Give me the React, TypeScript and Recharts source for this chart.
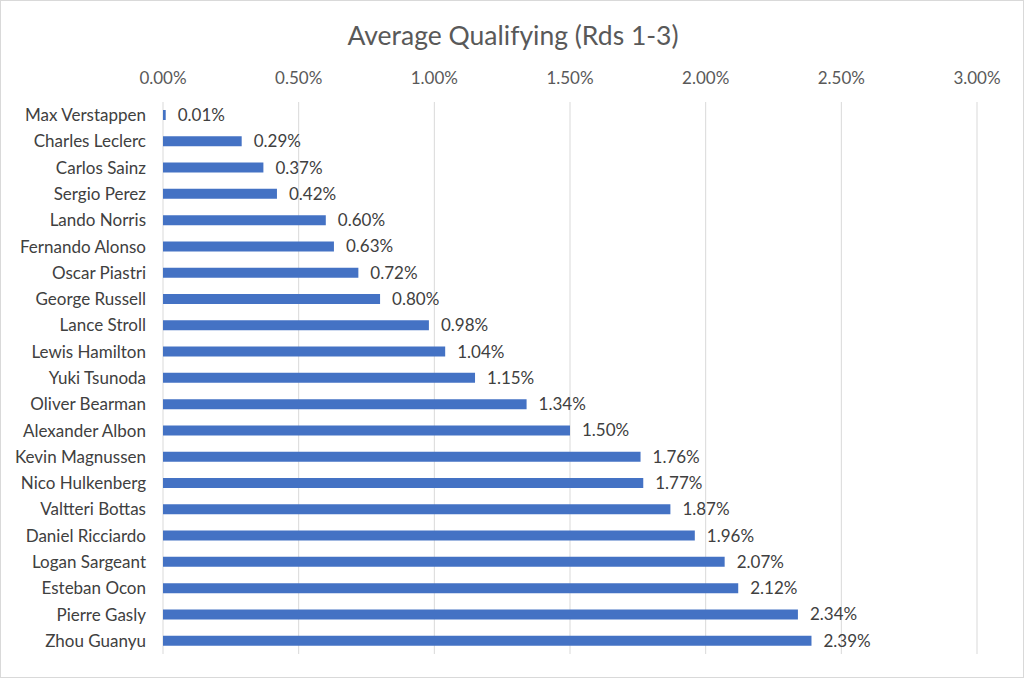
import React from 'react';
import { BarChart, Bar, XAxis, YAxis, CartesianGrid, LabelList } from 'recharts';

const drivers = [
  'Max Verstappen', 'Charles Leclerc', 'Carlos Sainz', 'Sergio Perez', 'Lando Norris',
  'Fernando Alonso', 'Oscar Piastri', 'George Russell', 'Lance Stroll', 'Lewis Hamilton',
  'Yuki Tsunoda', 'Oliver Bearman', 'Alexander Albon', 'Kevin Magnussen', 'Nico Hulkenberg',
  'Valtteri Bottas', 'Daniel Ricciardo', 'Logan Sargeant', 'Esteban Ocon', 'Pierre Gasly',
  'Zhou Guanyu',
];
const gaps = [
  0.01, 0.29, 0.37, 0.42, 0.60, 0.63, 0.72, 0.80, 0.98, 1.04, 1.15, 1.34, 1.50, 1.76, 1.77,
  1.87, 1.96, 2.07, 2.12, 2.34, 2.39,
];
const xTicks = [0, 0.5, 1, 1.5, 2, 2.5, 3];
const title = 'Average Qualifying (Rds 1-3)';

const data = drivers.map((name, i) => ({ name, value: gaps[i] }));
const FONT = 'Lato, "Open Sans", sans-serif';
const fmt = (v: number) => `${v.toFixed(2)}%`;

export default function App() {
  return (
    <div
      style={{
        position: 'absolute',
        left: 0,
        top: 0,
        width: 1022,
        height: 676,
        border: '1px solid #d9d9d9',
        background: '#fff',
        fontFamily: FONT,
      }}
    >
      <div
        style={{
          position: 'absolute',
          left: 0,
          top: 18,
          width: 1024,
          textAlign: 'center',
          fontSize: 26.5,
          lineHeight: '32px',
          color: '#595959',
          fontFamily: FONT,
        }}
      >
        {title}
      </div>
      <div style={{ position: 'absolute', left: -1, top: -1 }}>
        <BarChart
          width={1024}
          height={678}
          data={data}
          layout="vertical"
          margin={{ top: 72, right: 47, bottom: 24, left: 0 }}
          barCategoryGap={0}
        >
          <CartesianGrid horizontal={false} vertical stroke="#d9d9d9" strokeWidth={1} />
          <XAxis
            type="number"
            orientation="top"
            domain={[0, 3]}
            ticks={xTicks}
            tickFormatter={fmt}
            axisLine={false}
            tickLine={false}
            height={30}
            tickMargin={12}
            tick={{ fill: '#595959', fontSize: 17, fontFamily: FONT }}
            interval={0}
          />
          <YAxis
            type="category"
            dataKey="name"
            width={163}
            axisLine={false}
            tickLine={false}
            tickMargin={11}
            interval={0}
            tick={{ fill: '#404040', fontSize: 17, fontFamily: FONT }}
          />
          <Bar dataKey="value" fill="#4472c4" barSize={10} isAnimationActive={false}>
            <LabelList
              dataKey="value"
              position="right"
              offset={12}
              formatter={(v: number) => fmt(v)}
              style={{ fill: '#404040', fontSize: 17, fontFamily: FONT }}
            />
          </Bar>
        </BarChart>
      </div>
    </div>
  );
}
